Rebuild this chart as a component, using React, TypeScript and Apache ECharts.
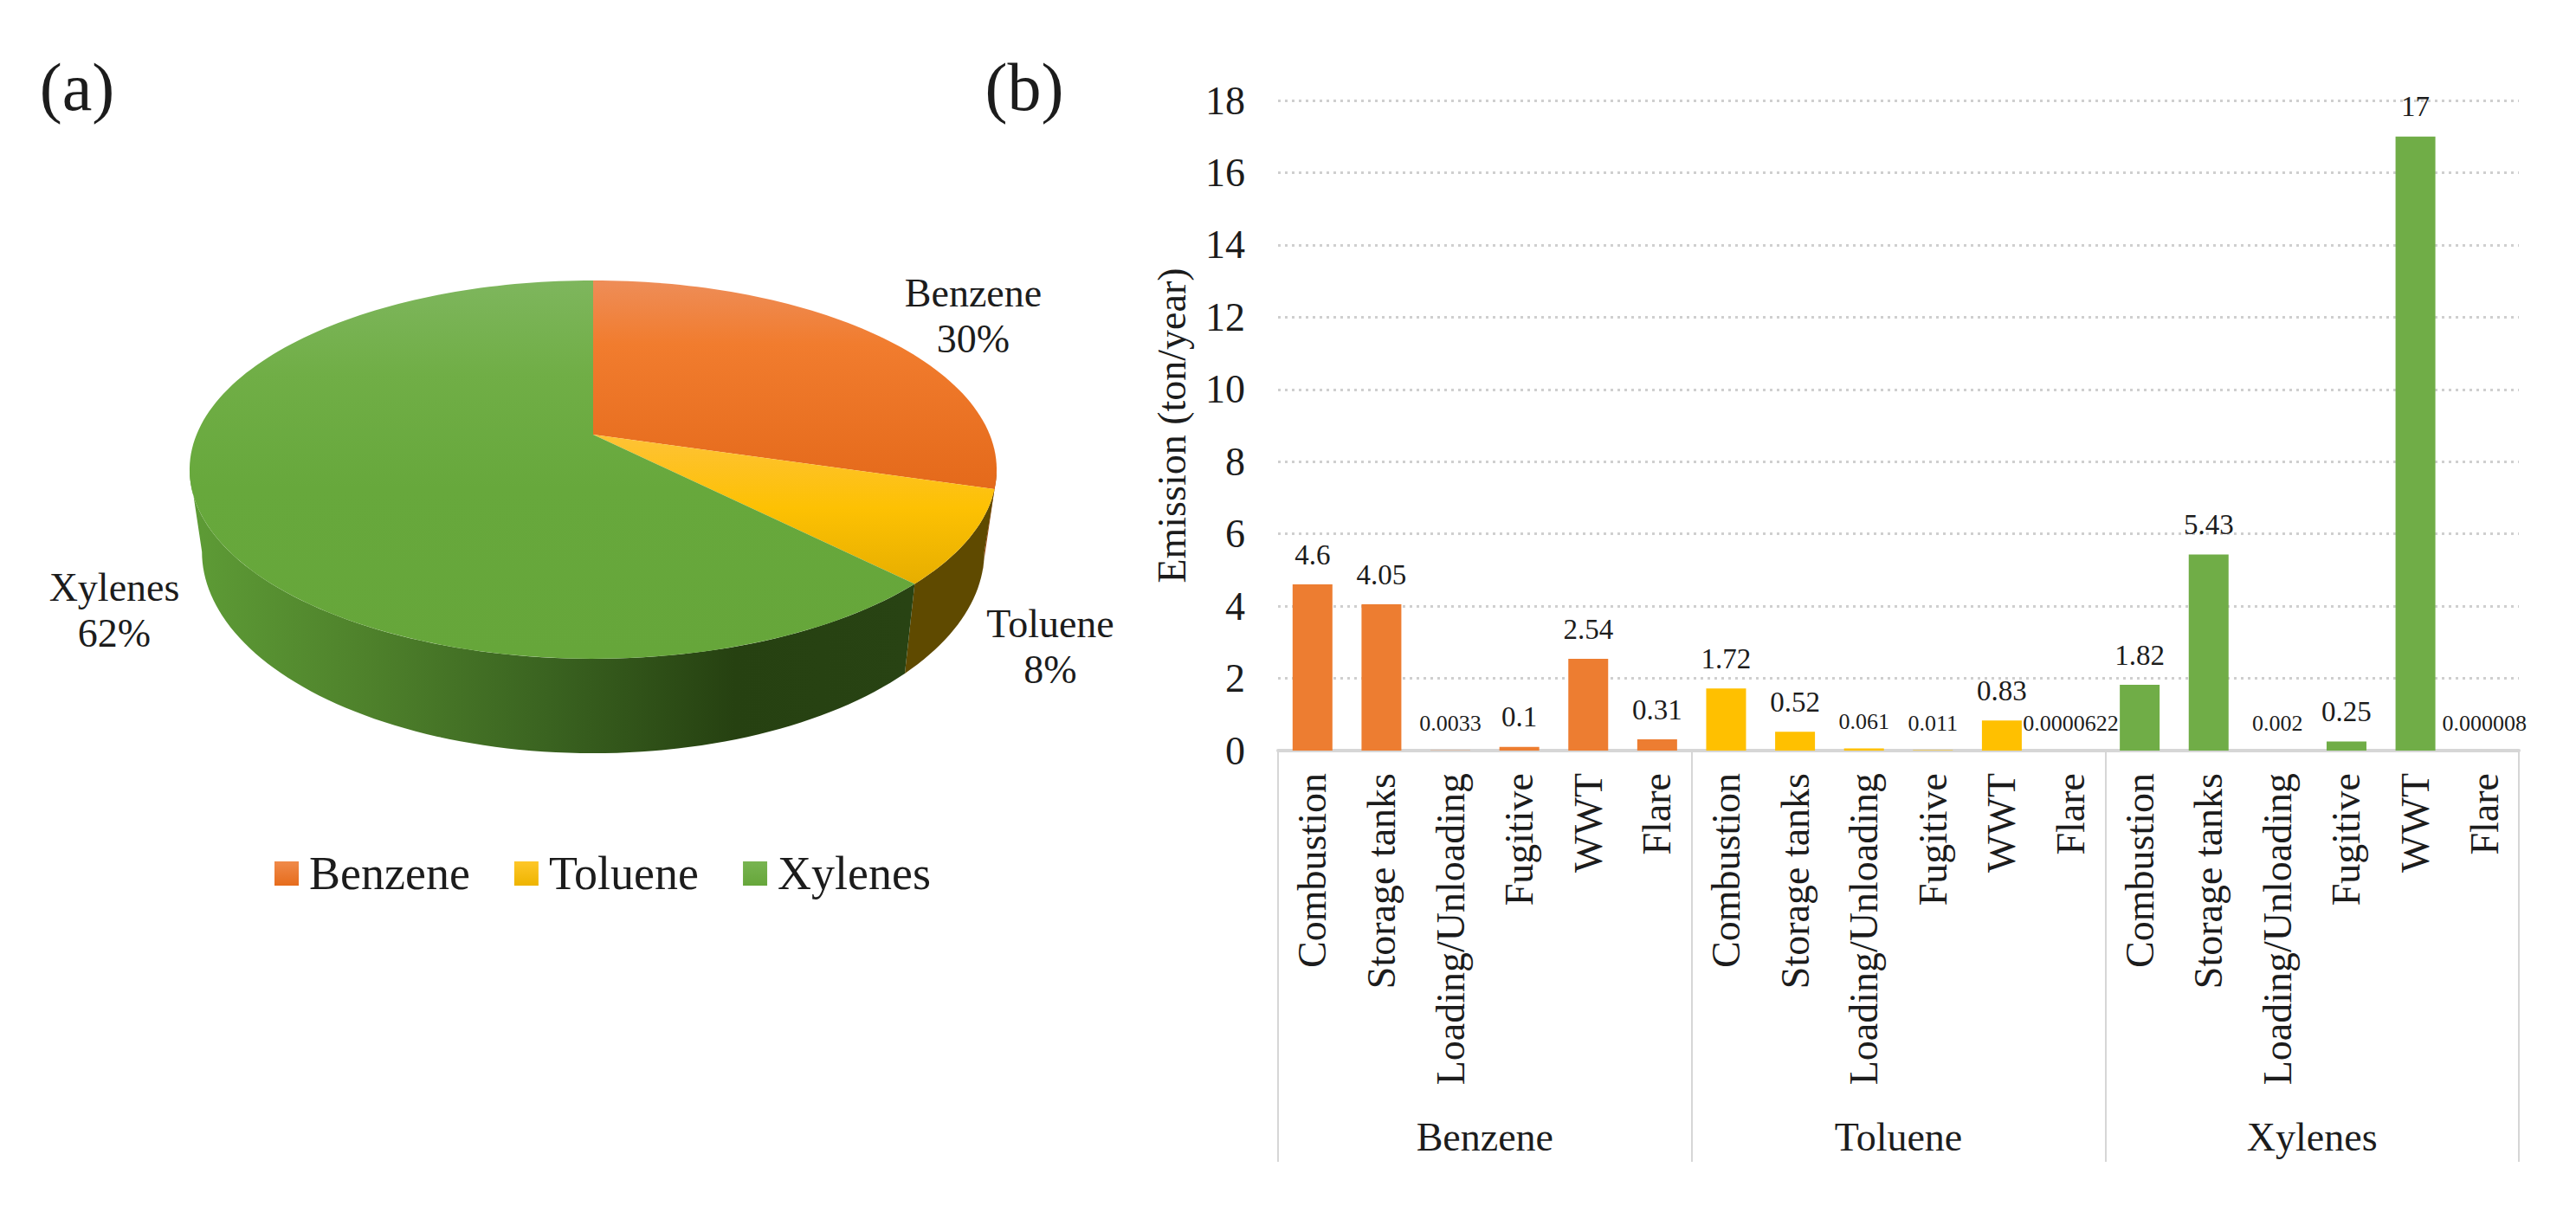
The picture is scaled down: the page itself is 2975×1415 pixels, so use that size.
import React, { useEffect, useRef } from "react";
import * as echarts from "echarts";

const FONT = '"Liberation Serif", "Times New Roman", serif';
const INK = "#1c1c1c";

const sourceNames = ["Combustion", "Storage tanks", "Loading/Unloading", "Fugitive", "WWT", "Flare"];
const groupNames = ["Benzene", "Toluene", "Xylenes"];
const benzeneValues = [4.6, 4.05, 0.0033, 0.1, 2.54, 0.31];
const tolueneValues = [1.72, 0.52, 0.061, 0.011, 0.83, 0.0000622];
const xylenesValues = [1.82, 5.43, 0.002, 0.25, 17, 0.000008];
const pieValues = [11.6, 3.14, 24.5];
const groupColors = ["#ed7d31", "#ffc000", "#70ad47"];
const legendShades = [
  ["#f08a4a", "#e66c1c"],
  ["#fec72a", "#eeb400"],
  ["#78b451", "#66a63a"],
];
const yTicks = { min: 0, max: 18, interval: 2 };

// projected disc geometry of the tilted pie
const CX = 685;
const PERSPECTIVE = 0.185;
const TOP_RIM = { y0: 502, a: 458, b: 211 };
const BOTTOM_RIM = { y0: 594, a: 444, b: 225 };
const TANGENT_RIGHT = 100.7;
const TANGENT_LEFT = 259.3;

const pieTotal = pieValues.reduce((s, v) => s + v, 0);
const pieStarts = pieValues.map((_, i) => (pieValues.slice(0, i).reduce((s, v) => s + v, 0) / pieTotal) * 360);

function rimPoint(rim: typeof TOP_RIM, deg: number): number[] {
  const t = (deg * Math.PI) / 180;
  const X = Math.sin(t);
  const Y = -Math.cos(t);
  const d = 1 - PERSPECTIVE * Y;
  return [CX + (rim.a * X) / d, rim.y0 + (rim.b * Y) / d];
}
function rimArc(rim: typeof TOP_RIM, from: number, to: number): number[][] {
  const n = Math.max(2, Math.ceil(Math.abs(to - from) / 1.5));
  const pts: number[][] = [];
  for (let i = 0; i <= n; i++) pts.push(rimPoint(rim, from + ((to - from) * i) / n));
  return pts;
}
const vGrad = (y0: number, y1: number, stops: [number, string][]) =>
  new echarts.graphic.LinearGradient(0, y0, 0, y1, stops.map(([offset, color]) => ({ offset, color })), true);
const hGrad = (x0: number, x1: number, stops: [number, string][]) =>
  new echarts.graphic.LinearGradient(x0, 0, x1, 0, stops.map(([offset, color]) => ({ offset, color })), true);

const topFills = [
  () => vGrad(324, 570, [[0, "#ee8d58"], [0.3, "#f17c2e"], [1, "#e4691a"]]),
  () => vGrad(510, 680, [[0, "#fec232"], [0.45, "#fdc103"], [1, "#e5ad00"]]),
  () => vGrad(324, 761, [[0, "#7eb65d"], [0.25, "#70ae46"], [0.55, "#67a83c"], [1, "#66a63a"]]),
];
const sideFills = [
  () => "#9c4d17",
  () => "#5f4a00",
  () => hGrad(219, 1047, [[0, "#5e9c36"], [0.25, "#4e812b"], [0.5, "#3a6320"], [0.76, "#264111"], [1, "#284313"]]),
];
const labelAnchors = [
  [1124, 365],
  [1213, 747],
  [132, 705],
];

function sliceSeries(i: number) {
  return {
    type: "custom",
    name: groupNames[i],
    coordinateSystem: "none",
    clip: false,
    silent: true,
    itemStyle: { color: groupColors[i] },
    data: [[pieValues[i]]],
    renderItem: (_p: any, api: any) => {
      const span = (api.value(0) / pieTotal) * 360;
      const a0 = pieStarts[i];
      const a1 = a0 + span;
      const children: any[] = [];
      const sideFrom = Math.max(a0, TANGENT_RIGHT);
      const sideTo = Math.min(a1, TANGENT_LEFT);
      if (sideTo > sideFrom) {
        // the slice next to the right-hand tangent follows the silhouette down to the lower rim
        const bottomFrom = a0 - TANGENT_RIGHT < 10 ? TANGENT_RIGHT : sideFrom;
        children.push({
          type: "polygon",
          shape: { points: [...rimArc(TOP_RIM, sideFrom, sideTo), ...rimArc(BOTTOM_RIM, sideTo, bottomFrom)] },
          style: { fill: sideFills[i]() },
        });
      }
      children.push({
        type: "polygon",
        shape: { points: [[CX, TOP_RIM.y0], ...rimArc(TOP_RIM, a0, a1)] },
        style: { fill: topFills[i]() },
      });
      children.push({
        type: "text",
        x: labelAnchors[i][0],
        y: labelAnchors[i][1],
        z2: 10,
        style: {
          text: `${groupNames[i]}\n${Math.round((api.value(0) / pieTotal) * 100)}%`,
          fontFamily: FONT,
          fontSize: 46,
          lineHeight: 53,
          fill: INK,
          textAlign: "center",
          textVerticalAlign: "middle",
        },
      });
      return { type: "group", children };
    },
  };
}

const allValues = [benzeneValues, tolueneValues, xylenesValues];

export default function App() {
  const ref = useRef<HTMLDivElement>(null);
  useEffect(() => {
    const chart = echarts.init(ref.current!, undefined, { renderer: "svg" });
    chart.setOption({
      animation: false,
      backgroundColor: "#ffffff",
      textStyle: { fontFamily: FONT },
      graphic: [
        { type: "text", x: 89, y: 100, style: { text: "(a)", fontFamily: FONT, fontSize: 78, fill: INK, textAlign: "center", textVerticalAlign: "middle" } },
        { type: "text", x: 1183, y: 100, style: { text: "(b)", fontFamily: FONT, fontSize: 78, fill: INK, textAlign: "center", textVerticalAlign: "middle" } },
      ],
      legend: {
        left: 312,
        top: 977,
        data: groupNames.map((name, i) => ({
          name,
          itemStyle: {
            color: new echarts.graphic.LinearGradient(0, 0, 0, 1, [
              { offset: 0, color: legendShades[i][0] },
              { offset: 1, color: legendShades[i][1] },
            ]),
          },
        })),
        icon: "rect",
        itemWidth: 28,
        itemHeight: 28,
        itemGap: 51,
        selectedMode: false,
        textStyle: { fontFamily: FONT, fontSize: 54, color: INK, padding: [0, 0, 0, 7] },
      },
      grid: { left: 1476, right: 66, top: 116, bottom: 548, containLabel: false },
      xAxis: [
        {
          type: "category",
          data: groupNames.flatMap(() => sourceNames),
          axisLine: { show: true, lineStyle: { color: "#d6d6d6", width: 4 } },
          axisTick: {
            show: true,
            length: 475,
            interval: (index: number) => index % sourceNames.length === 0,
            lineStyle: { color: "#d6d6d6", width: 2 },
          },
          axisLabel: {
            interval: 0,
            rotate: 90,
            margin: 26,
            fontFamily: FONT,
            fontSize: 46,
            color: INK,
          },
        },
        {
          type: "category",
          position: "bottom",
          data: groupNames,
          axisLine: { show: false },
          axisTick: { show: false },
          axisLabel: { interval: 0, margin: 423, fontFamily: FONT, fontSize: 46, color: INK },
        },
      ],
      yAxis: {
        type: "value",
        min: yTicks.min,
        max: yTicks.max,
        interval: yTicks.interval,
        name: "Emission (ton/year)",
        nameLocation: "middle",
        nameRotate: 90,
        nameGap: 100,
        nameTextStyle: { fontFamily: FONT, fontSize: 46, color: INK },
        axisLine: { show: false },
        axisTick: { show: false },
        axisLabel: { margin: 38, fontFamily: FONT, fontSize: 46, color: INK },
        splitLine: { show: true, lineStyle: { color: "#cfcfcf", width: 3, type: [3, 5] } },
      },
      series: [
        {
          type: "bar",
          name: "Emission",
          barWidth: 46,
          data: allValues.flatMap((vals, g) =>
            vals.map((v) => ({
              value: v,
              itemStyle: { color: groupColors[g] },
              label: { fontSize: v > 0 && v < 0.1 ? 26 : 33 },
            }))
          ),
          label: {
            show: true,
            position: "top",
            distance: 18,
            fontFamily: FONT,
            color: INK,
            formatter: (p: any) => String(p.value),
          },
        },
        ...groupNames.map((_, i) => sliceSeries(i)),
      ],
    });
    return () => chart.dispose();
  }, []);
  return <div ref={ref} style={{ position: "fixed", left: 0, top: 0, width: 2975, height: 1415 }} />;
}
